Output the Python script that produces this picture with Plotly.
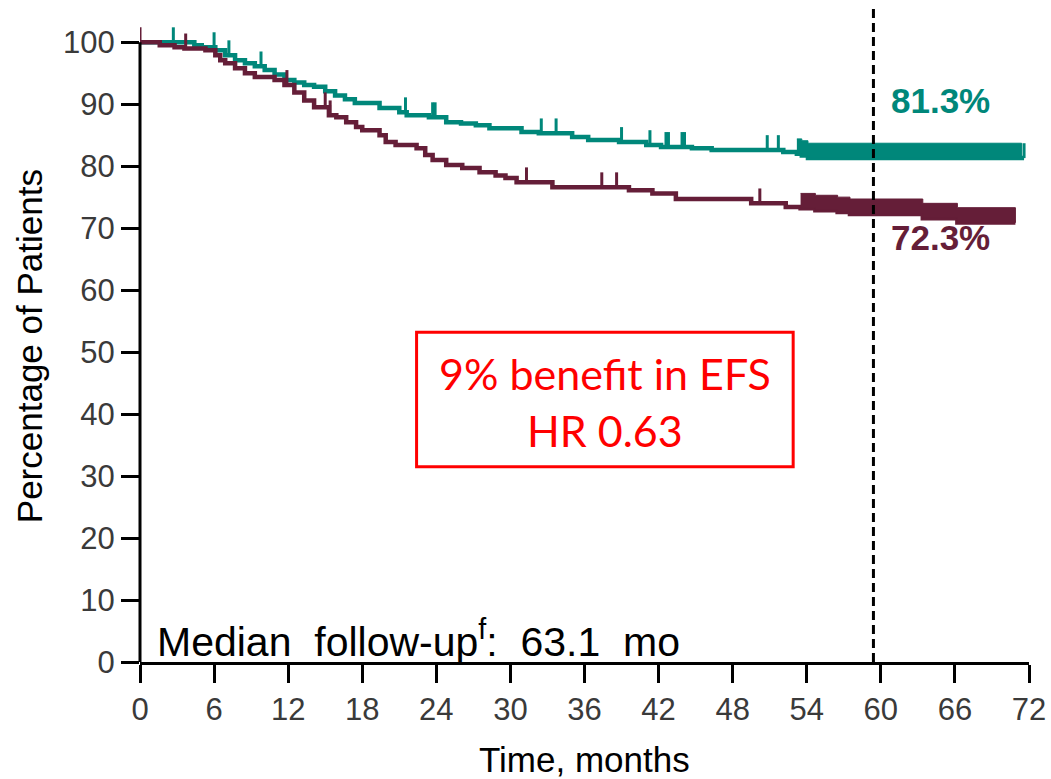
import numpy as np
import plotly.graph_objects as go

# ---------------- data ----------------
# Teal arm: step times (months) and survival (%)
teal_times = [0, 4.4, 5.0, 6.1, 6.9, 7.7, 8.5, 9.3, 10.1, 10.9, 11.7, 12.5, 13.3,
              14.1, 15.0, 15.8, 16.6, 17.4, 19.4, 21.0, 21.6, 23.4, 24.8, 26.0,
              27.2, 28.3, 30.9, 32.3, 35.0, 36.3, 38.8, 41.0, 42.2, 44.7, 46.3,
              52.1, 53.2, 53.6, 54.1]
teal_surv = [100, 99.5, 99.2, 98.7, 97.9, 97.1, 96.6, 96.1, 95.5, 94.8, 93.9, 93.5,
             93.1, 92.8, 92.1, 91.4, 90.8, 90.2, 89.4, 88.7, 88.2, 87.9, 87.1,
             86.9, 86.6, 86.1, 85.5, 85.3, 84.7, 84.2, 83.9, 83.4, 83.1, 82.9,
             82.6, 82.3, 82.0, 81.7, 81.3]
teal_end = 71.6
teal_censor = [2.7, 6.0, 7.2, 9.8, 21.5, 23.7, 23.9, 32.5, 33.7, 39.0, 41.3, 42.6,
               42.8, 43.9, 44.1, 50.8, 51.7, 71.6]
teal_dense = [53.2, 71.4]   # interval of densely packed censor marks

# Maroon arm
maroon_times = [0, 1.6, 2.8, 3.6, 5.3, 6.1, 6.5, 6.9, 7.7, 8.5, 9.3, 10.9, 11.7,
                12.5, 13.3, 14.1, 15.3, 15.9, 16.7, 17.5, 18.0, 19.4, 19.9, 20.7,
                22.4, 23.1, 23.7, 24.8, 26.1, 27.5, 28.8, 29.6, 30.5, 33.4, 39.6,
                41.5, 43.4, 49.5, 52.3, 53.5, 54.7, 56.5, 57.5, 63.4, 66.2]
maroon_surv = [100, 99.5, 99.2, 99.0, 98.7, 97.9, 97.1, 96.6, 95.8, 95.0, 94.4, 93.9,
               93.1, 91.9, 90.6, 89.5, 88.2, 87.9, 87.1, 86.3, 85.8, 85.0, 83.9,
               83.4, 82.9, 81.8, 81.0, 80.2, 79.7, 79.0, 78.5, 78.1, 77.4, 76.6,
               76.1, 75.6, 74.7, 74.0, 73.4, 73.2, 72.9, 72.6, 72.3, 71.6, 70.9]
maroon_end = 70.9
maroon_censor = [0, 3.7, 11.9, 15.0, 15.4, 31.3, 37.4, 38.6, 50.2]
maroon_dense = [53.5, 70.9]

x_ticks = [0, 6, 12, 18, 24, 30, 36, 42, 48, 54, 60, 66, 72]
y_ticks = [0, 10, 20, 30, 40, 50, 60, 70, 80, 90, 100]

TEAL = "#00877A"
MAROON = "#651E38"
TICK_H = 2.4       # censor-mark height (%)
REF_LINE = 59.4    # dashed reference line (months)


def surv_at(times, surv, t):
    i = np.searchsorted(np.array(times), t, side="right") - 1
    return surv[max(i, 0)]


def step_path(times, surv, a, b):
    xs, ys = [a], [surv_at(times, surv, a)]
    for t, s in zip(times, surv):
        if a < t < b:
            xs += [t, t]
            ys += [ys[-1], s]
    xs.append(b)
    ys.append(ys[-1])
    return xs, ys


fig = go.Figure()


def add_arm(times, surv, end, censor, dense, color):
    # curve
    fig.add_trace(go.Scatter(x=list(times) + [end], y=list(surv) + [surv[-1]],
                             mode="lines", line=dict(color=color, width=4.5, shape="hv"),
                             hoverinfo="skip", showlegend=False))
    # censor marks
    cx, cy = [], []
    for t in censor:
        s = surv_at(times, surv, t)
        cx += [t, t, None]
        cy += [s, s + TICK_H, None]
    fig.add_trace(go.Scatter(x=cx, y=cy, mode="lines",
                             line=dict(color=color, width=3),
                             hoverinfo="skip", showlegend=False))
    # dense censoring band
    lx, ly = step_path(times, surv, dense[0], dense[1])
    ux = lx[::-1]
    uy = [v + TICK_H for v in ly[::-1]]
    fig.add_trace(go.Scatter(x=lx + ux, y=ly + uy, mode="lines", fill="toself",
                             fillcolor=color, line=dict(color=color, width=1),
                             hoverinfo="skip", showlegend=False))


add_arm(teal_times, teal_surv, teal_end, teal_censor, teal_dense, TEAL)
add_arm(maroon_times, maroon_surv, maroon_end, maroon_censor, maroon_dense, MAROON)

Y_MAX = 106

shapes = [
    # y axis line from 0 to 100
    dict(type="line", xref="paper", yref="paper", x0=0, x1=0, y0=0, y1=100 / Y_MAX,
         line=dict(color="black", width=3)),
    # dashed reference line
    dict(type="line", xref="x", yref="y", x0=REF_LINE, x1=REF_LINE, y0=0, y1=Y_MAX,
         line=dict(color="black", width=3, dash="9px,5px")),
    # red box
    dict(type="rect", xref="x", yref="y", x0=22.4, x1=52.9, y0=31.5, y1=53.2,
         line=dict(color="#FF0000", width=3)),
]

ann_font = "Liberation Sans, Arial, sans-serif"
box_font = "Lato, Open Sans, sans-serif"
annotations = [
    dict(x=64.8, y=90.6, xref="x", yref="y", text="<b>81.3%</b>", showarrow=False,
         font=dict(family=ann_font, size=35, color=TEAL), xanchor="center", yanchor="middle"),
    dict(x=64.8, y=68.5, xref="x", yref="y", text="<b>72.3%</b>", showarrow=False,
         font=dict(family=ann_font, size=35, color=MAROON), xanchor="center", yanchor="middle"),
    dict(x=37.7, y=46.5, xref="x", yref="y", text="9% benefit in EFS", showarrow=False,
         font=dict(family=box_font, size=43, color="#FF0000"),
         xanchor="center", yanchor="middle"),
    dict(x=37.7, y=37.4, xref="x", yref="y", text="HR 0.63", showarrow=False,
         font=dict(family=box_font, size=43, color="#FF0000"),
         xanchor="center", yanchor="middle"),
    dict(x=1.2, y=0, xref="x", yref="y", yshift=-5,
         text="Median\u00a0 follow-up<sup>f</sup>:\u00a0\u00a063.1\u00a0\u00a0mo", showarrow=False,
         font=dict(family=ann_font, size=41, color="black"), xanchor="left", yanchor="bottom"),
    # axis titles (paper coordinates so they are drawn outside the plot area)
    dict(x=0.5, y=-0.149, xref="paper", yref="paper", text="Time, months", showarrow=False,
         font=dict(family=ann_font, size=35, color="black"), xanchor="center", yanchor="middle"),
    dict(x=-0.1235, y=0.481, xref="paper", yref="paper", text="Percentage of Patients",
         showarrow=False, textangle=-90, font=dict(family=ann_font, size=35, color="black"),
         xanchor="center", yanchor="middle"),
]

axis_common = dict(showgrid=False, zeroline=False, ticks="outside", ticklen=18,
                   tickwidth=3, tickcolor="black",
                   tickfont=dict(family=ann_font, size=31, color="#3a3a3a"))

fig.update_layout(
    width=1051, height=779,
    margin=dict(l=140, r=20, t=5, b=117),
    paper_bgcolor="white", plot_bgcolor="white",
    xaxis=dict(range=[0, 72], tickvals=x_ticks, ticktext=[str(v) for v in x_ticks],
               showline=True, linewidth=3, linecolor="black", **axis_common),
    yaxis=dict(range=[0, Y_MAX], tickvals=y_ticks, ticktext=[str(v) for v in y_ticks],
               showline=False, **axis_common),
    shapes=shapes,
    annotations=annotations,
)

fig.write_html("out.html")
